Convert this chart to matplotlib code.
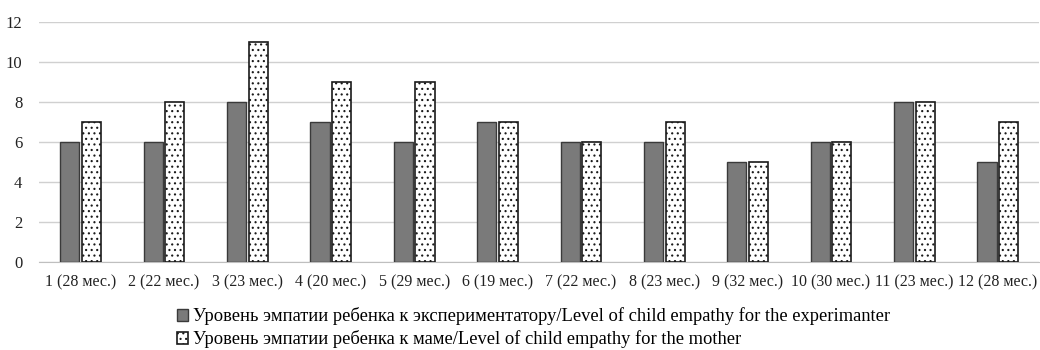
import matplotlib.pyplot as plt
import numpy as np

plt.rcParams['font.family'] = ['Liberation Serif', 'DejaVu Serif']
plt.rcParams['hatch.linewidth'] = 0.8

categories = ["1 (28 мес.)", "2 (22 мес.)", "3 (23 мес.)", "4 (20 мес.)", "5 (29 мес.)",
              "6 (19 мес.)", "7 (22 мес.)", "8 (23 мес.)", "9 (32 мес.)", "10 (30 мес.)",
              "11 (23 мес.)", "12 (28 мес.)"]
experimenter = [6, 6, 8, 7, 6, 7, 6, 6, 5, 6, 8, 5]
mother = [7, 8, 11, 9, 9, 7, 6, 7, 5, 6, 8, 7]
labels = ["Уровень эмпатии ребенка к экспериментатору/Level of child empathy for the experimanter",
          "Уровень эмпатии ребенка к маме/Level of child empathy for the mother"]

fig = plt.figure(figsize=(10.4, 3.5), dpi=100)
ax = fig.add_axes([0.0375, 0.251, 0.962, 0.686])

x = np.arange(len(categories))
w = 0.23
b1 = ax.bar(x - w / 2 - 0.015, experimenter, w, color='#7a7a7a', edgecolor='#3a3a3a',
            linewidth=1, label=labels[0], zorder=3)
b2 = ax.bar(x + w / 2 + 0.015, mother, w, color='white', edgecolor='#1a1a1a',
            hatch='...', linewidth=1.2, label=labels[1], zorder=3)

ax.set_xlim(-0.5, len(categories) - 0.5)
ax.set_ylim(0, 12)
ax.set_yticks(range(0, 13, 2))
ax.set_xticks(x)
ax.set_xticklabels(categories)
ax.yaxis.grid(True, color='#d0d0d0', linewidth=1, zorder=0)
for s in ['top', 'right', 'left']:
    ax.spines[s].set_visible(False)
ax.spines['bottom'].set_color('#bfbfbf')
ax.tick_params(axis='both', length=0, labelsize=11.5, colors='#222222')
ax.tick_params(axis='y', labelsize=12, pad=12)
ax.tick_params(axis='x', pad=9)

fig.legend(handles=[b1, b2], loc='upper left', bbox_to_anchor=(0.17, 0.122),
           frameon=False, fontsize=13.3, handlelength=0.6, handleheight=0.6,
           handletextpad=0.3, labelspacing=0.28, borderaxespad=0, borderpad=0)

fig.savefig("out.png")
